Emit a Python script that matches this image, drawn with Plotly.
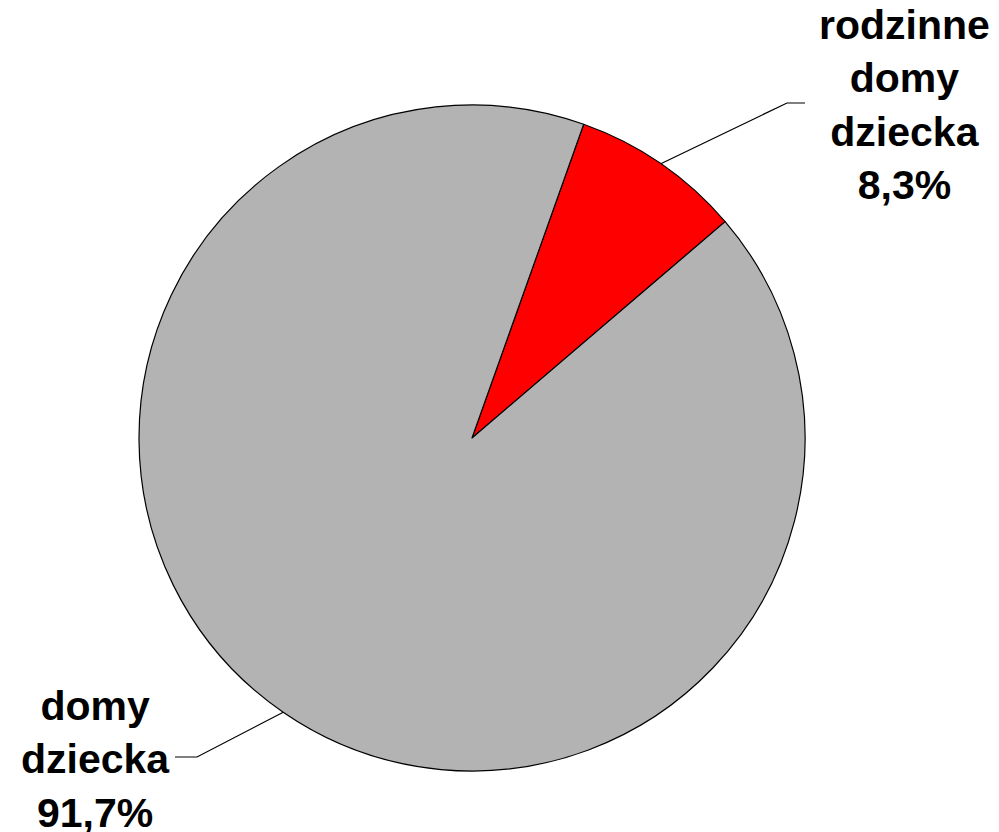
import math

import plotly.graph_objects as go

labels = ["rodzinne<br>domy<br>dziecka", "domy<br>dziecka"]
shares = [8.3, 91.7]
share_text = ["8,3%", "91,7%"]
colors = ["#ff0000", "#b3b3b3"]

W, H = 999, 832
PAGE_OFFSET = 8  # the html body margin shifts the whole figure by this much
CX, CY, R = 472, 438, 333
ROTATION = 19.6  # degrees clockwise from 12 o'clock where the first slice starts

# where the label text block sits and where its leader line bends (pixels)
label_pos = [(904, 105), (95, 759)]
elbow_pos = [(787, 103), (197, 757)]
line_end = [(805, 103), (175, 757)]


def px(x, y):
    return (x - PAGE_OFFSET) / W, 1 - (y - PAGE_OFFSET) / H


(dx0, dy1), (dx1, dy0) = px(CX - R, CY - R), px(CX + R, CY + R)

fig = go.Figure(
    go.Pie(
        labels=[l.replace("<br>", " ") for l in labels],
        values=shares,
        sort=False,
        direction="clockwise",
        rotation=ROTATION,
        marker={"colors": colors, "line": {"color": "black", "width": 1.2}},
        textinfo="none",
        hoverinfo="label+percent",
        showlegend=False,
        domain={"x": [dx0, dx1], "y": [dy0, dy1]},
    )
)

total = sum(shares)
start = ROTATION
for i, v in enumerate(shares):
    mid = math.radians(start + 360 * v / total / 2)
    start += 360 * v / total
    sx, sy = CX + R * math.sin(mid), CY - R * math.cos(mid)
    x0, y0 = px(sx, sy)
    x1, y1 = px(*elbow_pos[i])
    x2, y2 = px(*line_end[i])
    fig.add_shape(type="path", xref="paper", yref="paper",
                  path=f"M {x0},{y0} L {x1},{y1} L {x2},{y2}",
                  line={"color": "black", "width": 1.2})
    lx, ly = px(*label_pos[i])
    fig.add_annotation(
        x=lx, y=ly, xref="paper", yref="paper", showarrow=False,
        text=f"{labels[i]}<br>{share_text[i]}", align="center",
        xanchor="center", yanchor="middle",
        font={"family": "Liberation Sans, Arial, sans-serif", "size": 41,
              "color": "black", "weight": "bold"},
    )

fig.update_layout(
    width=W, height=H,
    margin={"l": 0, "r": 0, "t": 0, "b": 0},
    paper_bgcolor="white", plot_bgcolor="white",
)
fig.write_html("out.html")
